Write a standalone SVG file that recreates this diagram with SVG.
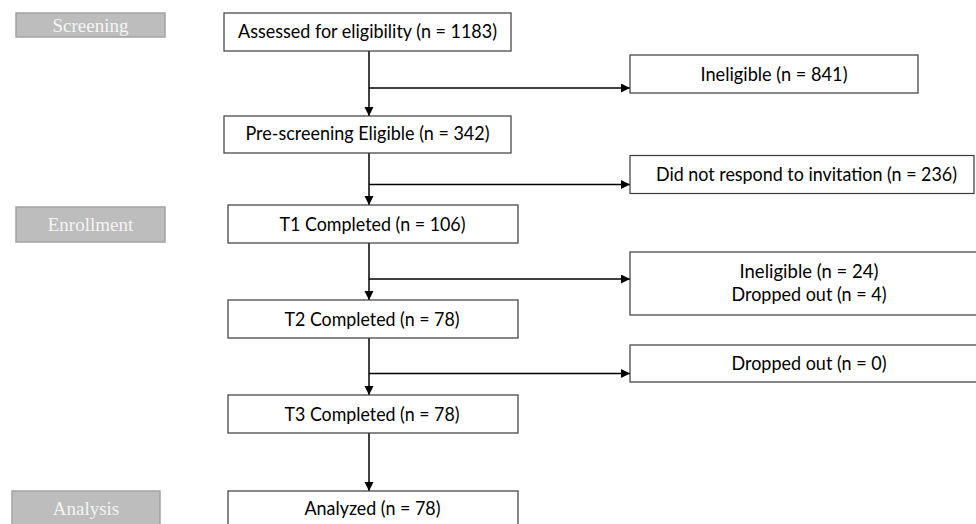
<svg xmlns="http://www.w3.org/2000/svg" width="976" height="524" viewBox="0 0 976 524">
<style>
.box{fill:#ffffff;stroke:#3a3a3a;stroke-width:1.2}
.stage{fill:#bdbdbd;stroke:#a3a3a3;stroke-width:1.5}
.t{font-family:Lato,"Liberation Sans",sans-serif;font-size:19px;fill:#000}
.st{font-family:"Liberation Serif",serif;font-size:19px;fill:#f4f4f4;text-anchor:middle}
.ln{fill:none;stroke:#000;stroke-width:1.5}
</style>
<defs>
<marker id="ah" markerUnits="userSpaceOnUse" markerWidth="10" markerHeight="10" refX="9" refY="4.5" orient="auto">
<path d="M0,0 L9,4.5 L0,9 Z" fill="#000"/>
</marker>
</defs>
<rect width="976" height="524" fill="#ffffff"/>
<g id="stage-screening"><rect class="stage" x="16" y="13" width="149" height="24"/><text class="st" x="90.5" y="32">Screening</text></g>
<g id="stage-enrollment"><rect class="stage" x="16" y="207" width="149" height="35"/><text class="st" x="90.5" y="231">Enrollment</text></g>
<g id="stage-analysis"><rect class="stage" x="12" y="491" width="148" height="40"/><text class="st" x="86" y="515">Analysis</text></g>
<g id="connectors">
<line class="ln" x1="369" y1="51" x2="369" y2="116" marker-end="url(#ah)"/>
<line class="ln" x1="369" y1="88" x2="630" y2="88" marker-end="url(#ah)"/>
<line class="ln" x1="369" y1="153" x2="369" y2="205" marker-end="url(#ah)"/>
<line class="ln" x1="369" y1="184.5" x2="630" y2="184.5" marker-end="url(#ah)"/>
<line class="ln" x1="369" y1="243" x2="369" y2="300" marker-end="url(#ah)"/>
<line class="ln" x1="369" y1="279" x2="630" y2="279" marker-end="url(#ah)"/>
<line class="ln" x1="369" y1="338" x2="369" y2="395" marker-end="url(#ah)"/>
<line class="ln" x1="369" y1="373.5" x2="630" y2="373.5" marker-end="url(#ah)"/>
<line class="ln" x1="369" y1="433" x2="369" y2="491" marker-end="url(#ah)"/>
</g>
<g id="n-assessed"><rect class="box" x="224" y="13" width="287" height="38"/><text class="t" x="238" y="38" textLength="259" lengthAdjust="spacingAndGlyphs">Assessed for eligibility (n = 1183)</text></g>
<g id="n-prescreen"><rect class="box" x="224" y="116" width="287" height="37"/><text class="t" x="245.5" y="140" textLength="244" lengthAdjust="spacingAndGlyphs">Pre-screening Eligible (n = 342)</text></g>
<g id="n-inelig1"><rect class="box" x="630" y="55" width="288" height="38"/><text class="t" x="700.5" y="80.5" textLength="147" lengthAdjust="spacingAndGlyphs">Ineligible (n = 841)</text></g>
<g id="n-noresp"><rect class="box" x="630" y="155.5" width="344" height="38"/><text class="t" x="656" y="181" textLength="301" lengthAdjust="spacingAndGlyphs">Did not respond to invitation (n = 236)</text></g>
<g id="n-t1"><rect class="box" x="228" y="205" width="290" height="38"/><text class="t" x="279.5" y="230.5" textLength="186" lengthAdjust="spacingAndGlyphs">T1 Completed (n = 106)</text></g>
<g id="n-inelig2"><rect class="box" x="630" y="252" width="360" height="63"/><text class="t" x="739.5" y="277.5" textLength="139" lengthAdjust="spacingAndGlyphs">Ineligible (n = 24)</text><text class="t" x="731.5" y="301" textLength="155" lengthAdjust="spacingAndGlyphs">Dropped out (n = 4)</text></g>
<g id="n-t2"><rect class="box" x="228" y="300" width="290" height="38"/><text class="t" x="284.5" y="325.5" textLength="175" lengthAdjust="spacingAndGlyphs">T2 Completed (n = 78)</text></g>
<g id="n-drop0"><rect class="box" x="630" y="345" width="360" height="37"/><text class="t" x="731.5" y="370" textLength="155" lengthAdjust="spacingAndGlyphs">Dropped out (n = 0)</text></g>
<g id="n-t3"><rect class="box" x="228" y="395" width="290" height="38"/><text class="t" x="284.5" y="420.5" textLength="175" lengthAdjust="spacingAndGlyphs">T3 Completed (n = 78)</text></g>
<g id="n-analyzed"><rect class="box" x="228" y="491" width="290" height="40"/><text class="t" x="304.5" y="515" textLength="136" lengthAdjust="spacingAndGlyphs">Analyzed (n = 78)</text></g>
</svg>
